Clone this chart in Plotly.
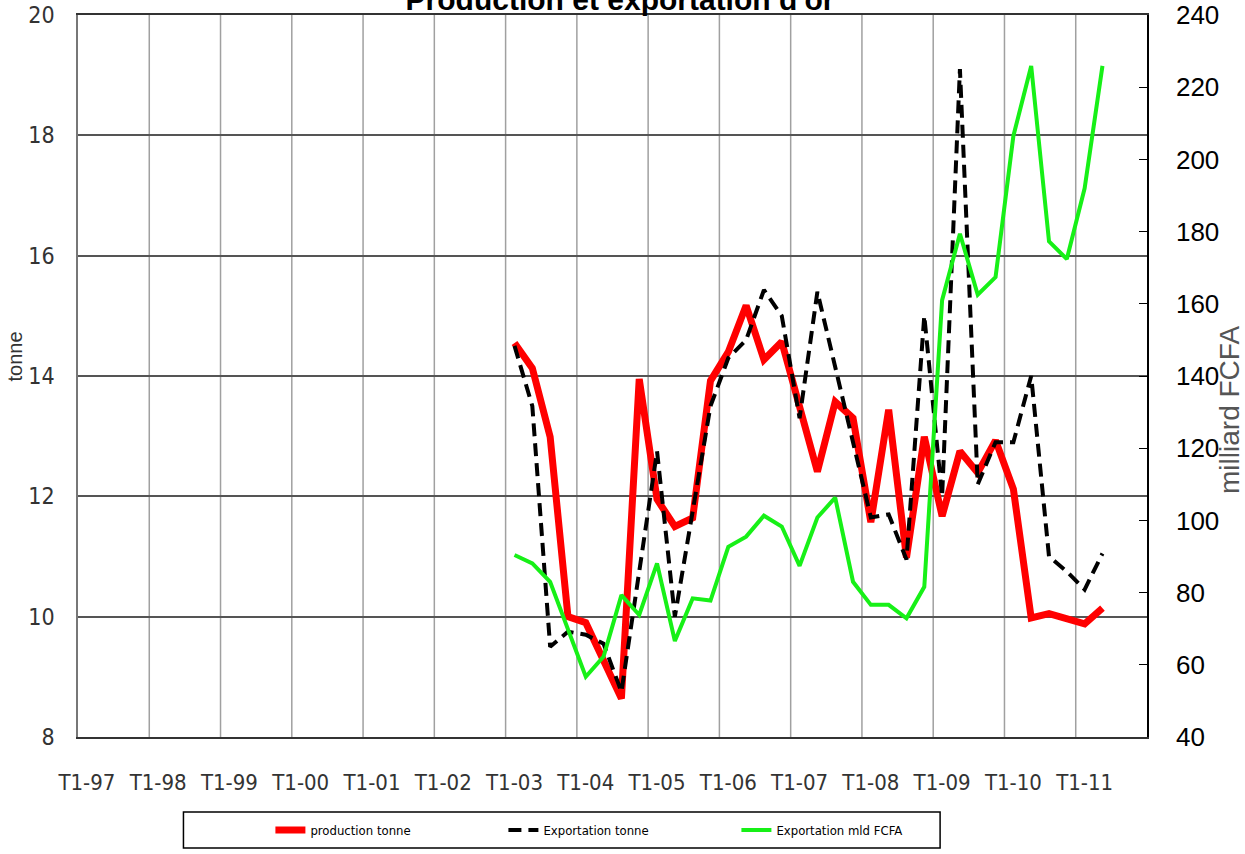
import plotly.graph_objects as go

# ---- categories (quarters) ----
years = ["97", "98", "99", "00", "01", "02", "03", "04", "05", "06", "07", "08", "09", "10", "11"]
all_quarters = [f"T{q}-{y}" for y in years for q in (1, 2, 3, 4)]
tick_labels = [f"T1-{y}" for y in years]

# quarters with data: T1-03 .. T2-11
data_quarters = all_quarters[all_quarters.index("T1-03"):all_quarters.index("T2-11") + 1]

# ---- series values ----
production_tonne = [14.55, 14.13, 12.99, 10.0, 9.9, 9.3, 8.64, 13.95,
                    11.95, 11.5, 11.64, 13.92, 14.4, 15.17, 14.27, 14.57,
                    13.5, 12.41, 13.57, 13.3, 11.57, 13.44, 10.98, 12.99,
                    11.67, 12.75, 12.39, 12.93, 12.12, 9.98, 10.05, 9.95,
                    9.88, 10.14]
exportation_tonne = [14.5, 13.5, 9.5, 9.75, 9.7, 9.55, 8.75, 10.8,
                     12.75, 10.0, 11.8, 13.5, 14.3, 14.6, 15.43, 15.0,
                     13.3, 15.4, 14.15, 12.9, 11.65, 11.7, 10.95, 15.0,
                     12.0, 19.1, 12.2, 12.9, 12.9, 14.0, 11.0, 10.75,
                     10.45, 11.05]
exportation_mld = [90.4, 88.1, 83.0, 70.0, 56.7, 62.3, 79.3, 73.8,
                   88.1, 66.6, 78.4, 77.8, 92.7, 95.5, 101.3, 98.3,
                   87.4, 100.8, 106.3, 83.0, 76.6, 76.6, 72.9, 81.6,
                   161.0, 179.4, 162.5, 167.4, 206.5, 225.9, 177.3, 172.4,
                   192.0, 225.9]

NARROW = "Liberation Sans Narrow, Arial Narrow, DejaVu Sans Condensed, Arial, sans-serif"
ARIAL = "Arial, Liberation Sans, sans-serif"

# plot-area geometry in pixels (for paper-coordinate conversions)
L, R, T, B = 77.5, 1147.0, 15.0, 737.0
W, H = R - L, B - T


def px_x(p):
    return (p - L) / W


def px_y(p):
    return (B - p) / H


fig = go.Figure()
fig.add_trace(go.Scatter(x=data_quarters, y=production_tonne, mode="lines",
                         name="production tonne",
                         line=dict(color="#ff0000", width=7)))
fig.add_trace(go.Scatter(x=data_quarters, y=exportation_tonne, mode="lines",
                         name="Exportation tonne",
                         line=dict(color="#000000", width=4, dash="13px,7px")))
fig.add_trace(go.Scatter(x=data_quarters, y=exportation_mld, mode="lines",
                         name="Exportation mld FCFA", yaxis="y2",
                         line=dict(color="#17f017", width=4)))

# vertical gridlines at year boundaries (category axis)
n = len(all_quarters)
shapes = []
for k in range(4, n, 4):
    shapes.append(dict(type="line", xref="x", yref="paper", x0=k - 0.5, x1=k - 0.5,
                       y0=0, y1=1, layer="below",
                       line=dict(color="#a0a0a0", width=1.5)))
# legend frame
shapes.append(dict(type="rect", xref="paper", yref="paper",
                   x0=px_x(183), x1=px_x(940), y0=px_y(848), y1=px_y(812),
                   line=dict(color="#000000", width=1.5), fillcolor="rgba(0,0,0,0)"))

fig.update_layout(
    width=1245, height=854,
    margin=dict(l=L, r=1245 - R, t=T, b=854 - B, pad=0, autoexpand=False),
    paper_bgcolor="white", plot_bgcolor="white",
    font=dict(family=ARIAL, color="#000"),
    title=dict(text="<b>Production et exportation d'or</b>",
               x=620 / 1245, xref="container", xanchor="center",
               y=1 - 10 / 854, yref="container", yanchor="bottom",
               font=dict(family=ARIAL, size=30, color="#000")),
    xaxis=dict(type="category", categoryorder="array", categoryarray=all_quarters,
               range=[-0.5, n - 0.5], tickmode="array", tickvals=tick_labels,
               ticktext=tick_labels, showgrid=False, zeroline=False,
               showline=True, mirror=True, linecolor="#333", linewidth=2, ticks="",
               tickfont=dict(family=NARROW, size=22, color="#333"),
               ticklabelstandoff=25, automargin=False),
    yaxis=dict(range=[8, 20], dtick=2, tick0=8, showgrid=True, gridcolor="#555",
               gridwidth=2, zeroline=False, showline=True, linecolor="#777",
               linewidth=1.5, ticks="",
               tickfont=dict(family=NARROW, size=23, color="#333"),
               ticklabelstandoff=17, automargin=False),
    yaxis2=dict(range=[40, 240], dtick=20, tick0=40, overlaying="y", side="right",
                showgrid=False, zeroline=False, showline=True, linecolor="#000",
                linewidth=1.5, ticks="inside", ticklen=8, tickcolor="#000",
                tickfont=dict(family=ARIAL, size=26, color="#000"),
                ticklabelstandoff=22, automargin=False),
    showlegend=True,
    legend=dict(orientation="h", x=px_x(270), xanchor="left",
                y=px_y(830), yanchor="middle",
                entrywidth=188, entrywidthmode="pixels",
                bgcolor="rgba(0,0,0,0)", borderwidth=0,
                font=dict(family=NARROW, size=13, color="#000")),
    shapes=shapes,
    annotations=[
        dict(text="tonne", xref="paper", yref="paper",
             x=px_x(14), y=px_y(357),
             xanchor="center", yanchor="middle", textangle=-90, showarrow=False,
             font=dict(family=ARIAL, size=20, color="#333")),
        dict(text="milliard FCFA", xref="paper", yref="paper",
             x=px_x(1229), y=px_y(410),
             xanchor="center", yanchor="middle", textangle=-90, showarrow=False,
             font=dict(family=ARIAL, size=28, color="#555")),
    ],
)

fig.write_html("out.html",
               config={"displayModeBar": False},
               post_script="document.body.style.margin='0';document.body.style.overflow='hidden';")
